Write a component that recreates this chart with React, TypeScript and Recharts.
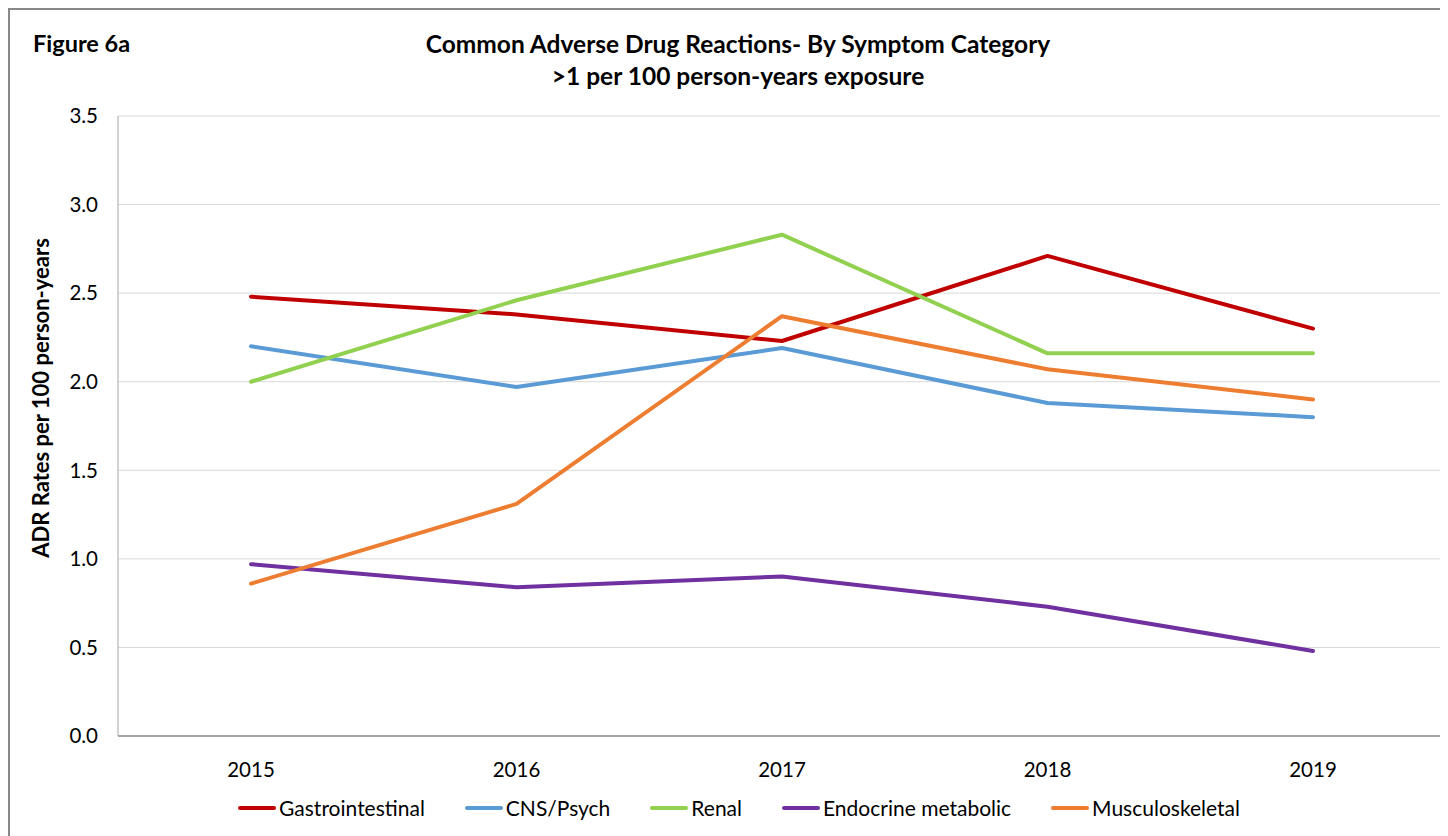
import { CartesianGrid, Line, LineChart, XAxis, YAxis } from 'recharts'

const years = ['2015', '2016', '2017', '2018', '2019']
const gastrointestinal = [2.48, 2.38, 2.23, 2.71, 2.3]
const cnsPsych = [2.2, 1.97, 2.19, 1.88, 1.8]
const renal = [2.0, 2.46, 2.83, 2.16, 2.16]
const endocrineMetabolic = [0.97, 0.84, 0.9, 0.73, 0.48]
const musculoskeletal = [0.86, 1.31, 2.37, 2.07, 1.9]
const yTicks = [0, 0.5, 1, 1.5, 2, 2.5, 3, 3.5]

const SERIES = [
  { key: 'gastro', name: 'Gastrointestinal', color: '#C00000', values: gastrointestinal },
  { key: 'cns', name: 'CNS/Psych', color: '#5B9BD5', values: cnsPsych },
  { key: 'renal', name: 'Renal', color: '#92D050', values: renal },
  { key: 'endo', name: 'Endocrine metabolic', color: '#7030A0', values: endocrineMetabolic },
  { key: 'musculo', name: 'Musculoskeletal', color: '#ED7D31', values: musculoskeletal },
]

const data = years.map((year, i) => {
  const row: Record<string, string | number> = { year }
  SERIES.forEach((s) => {
    row[s.key] = s.values[i]
  })
  return row
})

const FONT = 'Lato, "Open Sans", sans-serif'

// plot spans 1328px across five categories; pad half a band on each side
const HALF_BAND = 133

function LegendRow() {
  return (
    <div
      style={{
        position: 'absolute',
        top: 785,
        left: 0,
        width: 1458,
        display: 'flex',
        justifyContent: 'center',
        gap: 40,
        fontFamily: FONT,
        fontSize: 21,
        color: '#000',
      }}
    >
      {SERIES.map((s) => (
        <div key={s.key} style={{ display: 'flex', alignItems: 'center' }}>
          <span
            style={{
              display: 'inline-block',
              width: 38,
              height: 4,
              borderRadius: 2,
              background: s.color,
              marginRight: 3,
            }}
          />
          {s.name}
        </div>
      ))}
    </div>
  )
}

export default function App() {
  return (
    <div style={{ width: 1440, height: 828, overflow: 'hidden' }}>
      <div
        style={{
          position: 'relative',
          width: 1460,
          height: 850,
          borderLeft: '2px solid #888',
          borderTop: '2px solid #888',
          background: '#fff',
          fontFamily: FONT,
        }}
      >
        <div style={{ position: 'absolute', left: 23, top: 19, fontSize: 23.5, fontWeight: 700 }}>
          Figure 6a
        </div>
        <div
          style={{
            position: 'absolute',
            left: 0,
            width: 1456,
            top: 18,
            textAlign: 'center',
            fontSize: 24.5,
            fontWeight: 700,
            lineHeight: '32px',
          }}
        >
          Common Adverse Drug Reactions- By Symptom Category
          <br />
          &gt;1 per 100 person-years exposure
        </div>
        <div
          style={{
            position: 'absolute',
            left: 30,
            top: 388,
            transform: 'translate(-50%, -50%) rotate(-90deg)',
            whiteSpace: 'nowrap',
            fontSize: 22,
            fontWeight: 700,
          }}
        >
          ADR Rates per 100 person-years
        </div>
        <LineChart
          width={1438}
          height={826}
          data={data}
          margin={{ top: 106, right: 2, left: 0, bottom: 70 }}
          style={{ position: 'absolute', left: 0, top: 0 }}
        >
          <CartesianGrid vertical={false} stroke="#D9D9D9" />
          <XAxis
            dataKey="year"
            height={30}
            padding={{ left: HALF_BAND, right: HALF_BAND }}
            stroke="#8C8C8C"
            strokeWidth={1.5}
            tickLine={false}
            tickMargin={20}
            tick={{ fill: '#000', fontSize: 20.5, fontFamily: FONT }}
          />
          <YAxis
            width={108}
            domain={[0, 3.5]}
            ticks={yTicks}
            tickFormatter={(v: number) => v.toFixed(1)}
            stroke="#A6A6A6"
            tickLine={false}
            tickMargin={14}
            tick={{ fill: '#000', fontSize: 20.5, fontFamily: FONT }}
          />
          {SERIES.map((s) => (
            <Line
              key={s.key}
              type="linear"
              dataKey={s.key}
              name={s.name}
              stroke={s.color}
              strokeWidth={4}
              strokeLinecap="round"
              strokeLinejoin="round"
              dot={false}
              activeDot={false}
              isAnimationActive={false}
            />
          ))}
        </LineChart>
        <LegendRow />
      </div>
    </div>
  )
}
